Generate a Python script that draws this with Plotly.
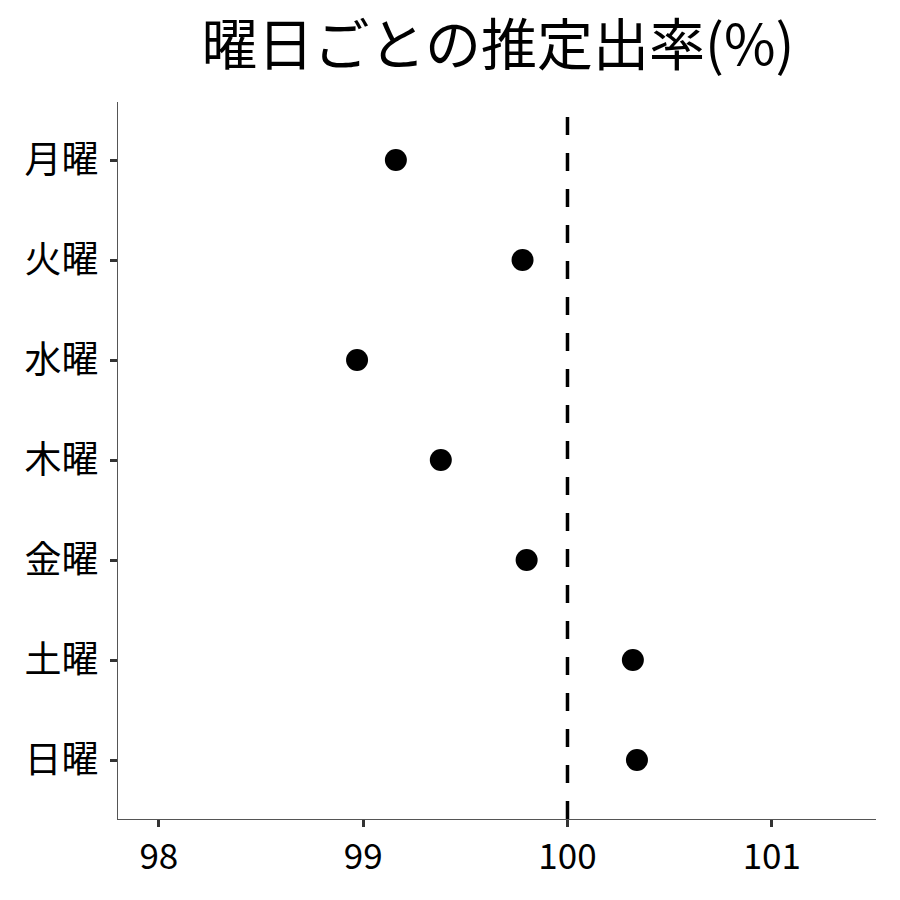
import plotly.graph_objects as go

# 曜日ごとの推定出率
days = ["月曜", "火曜", "水曜", "木曜", "金曜", "土曜", "日曜"]
rates = [99.16, 99.78, 98.97, 99.38, 99.80, 100.32, 100.34]
x_ticks = [98, 99, 100, 101]
ref_value = 100

jp_font = "Noto Sans CJK JP"

fig = go.Figure()
fig.add_trace(go.Scatter(
    x=rates, y=days, mode="markers",
    marker=dict(color="black", size=22),
    showlegend=False,
))
fig.add_vline(x=ref_value, line=dict(color="black", width=3.5, dash="18px,18px"))

# page has an 8px body margin, so the figure is sized to fit inside the window
fig.update_layout(
    width=892, height=892,
    margin=dict(l=110, r=24, t=94, b=81),
    plot_bgcolor="white", paper_bgcolor="white",
    font=dict(family=jp_font, color="black"),
    title=dict(text="曜日ごとの推定出率(%)", font=dict(size=56, family=jp_font, color="black"),
               x=0.5493, xanchor="center", y=0.958, yanchor="middle"),
)
fig.update_xaxes(
    range=[97.8, 101.51], tickvals=x_ticks, showgrid=False, zeroline=False,
    showline=True, linecolor="#555555", linewidth=1.2,
    ticks="outside", ticklen=7, tickwidth=3, tickcolor="#333333",
    tickfont=dict(size=35, color="black"),
)
fig.update_yaxes(
    categoryorder="array", categoryarray=days, autorange=False, range=[6.59, -0.58],
    showgrid=False, zeroline=False,
    showline=True, linecolor="#555555", linewidth=1.2,
    ticks="outside", ticklen=7, tickwidth=3, tickcolor="#333333",
    ticklabelstandoff=4,
    tickfont=dict(size=37, color="black"),
)

fig.write_html("out.html")
